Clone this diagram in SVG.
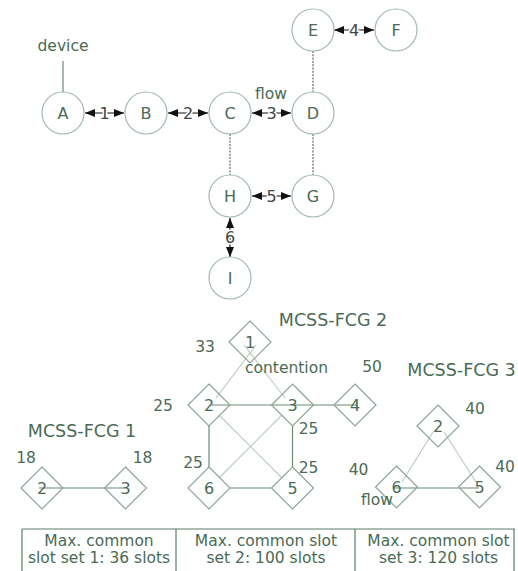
<svg xmlns="http://www.w3.org/2000/svg" width="518" height="571" viewBox="0 0 518 571">
<defs>
<marker id="ah" markerUnits="userSpaceOnUse" markerWidth="10" markerHeight="10" viewBox="0 0 10 10" refX="10" refY="5" orient="auto-start-reverse">
<path d="M0,1 L10,5 L0,9 Z" fill="#111"/>
</marker>
</defs>
<style>
text{font-family:"DejaVu Sans","Liberation Sans",sans-serif;fill:#4a6b56;font-size:15.5px;text-anchor:middle}
.node circle{fill:#fff;stroke:#a3b9aa;stroke-width:1.2}
.node text{font-size:16px}
.dia path{fill:none;stroke:#8ea596;stroke-width:1.2}
.dia text{font-size:16px}
.arr{stroke:#111;stroke-width:1.2;fill:none;marker-start:url(#ah);marker-end:url(#ah)}
.al{fill:#444;font-size:16px;stroke:#fff;stroke-width:3;paint-order:stroke}
.dot{stroke:#444;stroke-width:1;stroke-dasharray:2,1.3;fill:none}
.dk{stroke:#6c8a77;stroke-width:1.2;fill:none}
.lt{stroke:#b9cbbf;stroke-width:1.1;fill:none}
.big{font-size:17.5px}
.tb{stroke:#5c7c68;stroke-width:1.2;fill:none}
</style>

<g id="connectors">
<line class="dk" x1="63" y1="61" x2="63" y2="92"/>
<line class="dot" x1="230" y1="134" x2="230" y2="175"/>
<line class="dot" x1="313" y1="134" x2="313" y2="175"/>
<line class="dot" x1="313" y1="51" x2="313" y2="92"/>
<path class="arr" d="M85,113 H124"/>
<path class="arr" d="M168,113 H208"/>
<path class="arr" d="M252,113 H291"/>
<path class="arr" d="M334,30 H374"/>
<path class="arr" d="M252,196 H291"/>
<path class="arr" d="M230,218 V257"/>
<text class="al" x="104.5" y="119">1</text>
<text class="al" x="188" y="119">2</text>
<text class="al" x="271.5" y="119">3</text>
<text class="al" x="354" y="36">4</text>
<text class="al" x="271.5" y="202">5</text>
<text class="al" x="230" y="243">6</text>

<line class="dk" x1="39" y1="488" x2="125" y2="488"/>
<line class="lt" x1="244" y1="345" x2="285" y2="398"/>
<line class="lt" x1="256" y1="345" x2="216" y2="398"/>
<line class="lt" x1="219" y1="415" x2="282" y2="478"/>
<line class="lt" x1="282" y1="415" x2="219" y2="478"/>
<line class="dk" x1="212" y1="405" x2="358" y2="405"/>
<line class="dk" x1="209" y1="426" x2="209" y2="467"/>
<line class="dk" x1="292.5" y1="426" x2="292.5" y2="467"/>
<line class="dk" x1="230" y1="488" x2="272" y2="488"/>
<line class="lt" x1="433" y1="432" x2="402" y2="482"/>
<line class="lt" x1="444" y1="432" x2="476" y2="482"/>
<line class="dk" x1="395" y1="488" x2="479" y2="488"/>
</g>

<g id="nA" class="node"><circle cx="63" cy="113" r="21"/><text x="63" y="119">A</text></g>
<g id="nB" class="node"><circle cx="146" cy="113" r="21"/><text x="146" y="119">B</text></g>
<g id="nC" class="node"><circle cx="230" cy="113" r="21"/><text x="230" y="119">C</text></g>
<g id="nD" class="node"><circle cx="313" cy="113" r="21"/><text x="313" y="119">D</text></g>
<g id="nE" class="node"><circle cx="313" cy="30" r="21"/><text x="313" y="36">E</text></g>
<g id="nF" class="node"><circle cx="396" cy="30" r="21"/><text x="396" y="36">F</text></g>
<g id="nH" class="node"><circle cx="230" cy="196" r="21"/><text x="230" y="202">H</text></g>
<g id="nG" class="node"><circle cx="313" cy="196" r="21"/><text x="313" y="202">G</text></g>
<g id="nI" class="node"><circle cx="230" cy="278" r="21"/><text x="230" y="284">I</text></g>

<text x="63" y="51">device</text>
<text x="271" y="99">flow</text>

<g id="f1-2" class="dia"><path d="M42,467 L63,488 L42,509 L21,488 Z"/><text x="42" y="494">2</text></g>
<g id="f1-3" class="dia"><path d="M125.5,467 L146.5,488 L125.5,509 L104.5,488 Z"/><text x="125.5" y="494">3</text></g>

<g id="f2-1" class="dia"><path d="M250,321 L271,342 L250,363 L229,342 Z"/><text x="250" y="348">1</text></g>
<g id="f2-2" class="dia"><path d="M209,384 L230,405 L209,426 L188,405 Z"/><text x="209" y="411">2</text></g>
<g id="f2-3" class="dia"><path d="M292.5,384 L313.5,405 L292.5,426 L271.5,405 Z"/><text x="292.5" y="411">3</text></g>
<g id="f2-4" class="dia"><path d="M355,384 L376,405 L355,426 L334,405 Z"/><text x="355" y="411">4</text></g>
<g id="f2-6" class="dia"><path d="M209,467 L230,488 L209,509 L188,488 Z"/><text x="209" y="494">6</text></g>
<g id="f2-5" class="dia"><path d="M292.5,467 L313.5,488 L292.5,509 L271.5,488 Z"/><text x="292.5" y="494">5</text></g>

<g id="f3-2" class="dia"><path d="M438,405 L459,426 L438,447 L417,426 Z"/><text x="438" y="432">2</text></g>
<g id="f3-6" class="dia"><path d="M396.5,466 L417.5,487 L396.5,508 L375.5,487 Z"/><text x="396.5" y="493">6</text></g>
<g id="f3-5" class="dia"><path d="M479.5,466 L500.5,487 L479.5,508 L458.5,487 Z"/><text x="479.5" y="493">5</text></g>

<text class="big" x="333" y="326">MCSS-FCG 2</text>
<text class="big" x="461.5" y="376">MCSS-FCG 3</text>
<text class="big" x="82" y="437">MCSS-FCG 1</text>
<text x="205" y="352">33</text>
<text x="286.5" y="373">contention</text>
<text x="372" y="372">50</text>
<text x="163" y="411">25</text>
<text x="308.5" y="434">25</text>
<text x="308.5" y="473">25</text>
<text x="193" y="468">25</text>
<text x="475" y="414">40</text>
<text x="505" y="472">40</text>
<text x="358.5" y="475">40</text>
<text x="377" y="505">flow</text>
<text x="26" y="463">18</text>
<text x="142.5" y="463">18</text>

<g id="table">
<line class="tb" x1="22" y1="529" x2="515" y2="529" stroke-width="2"/>
<line class="tb" x1="22" y1="529" x2="22" y2="571"/>
<line class="tb" x1="176" y1="529" x2="176" y2="571"/>
<line class="tb" x1="355" y1="529" x2="355" y2="571"/>
<line class="tb" x1="514" y1="529" x2="514" y2="571"/>
<text x="99" y="546">Max. common</text>
<text x="99" y="563">slot set 1: 36 slots</text>
<text x="266" y="546">Max. common slot</text>
<text x="266" y="563">set 2: 100 slots</text>
<text x="438.5" y="546">Max. common slot</text>
<text x="438.5" y="563">set 3: 120 slots</text>
</g>
</svg>
